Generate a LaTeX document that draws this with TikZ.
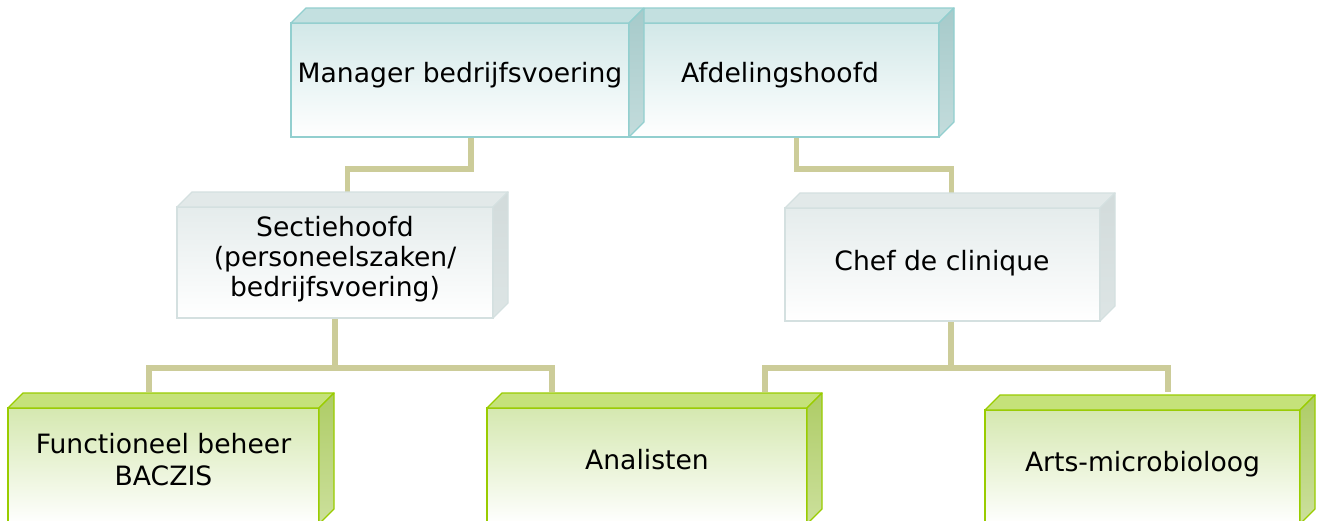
\documentclass[tikz,border=0pt]{standalone}
\usepackage{fontspec}
\setmainfont{DejaVu Sans}
\usetikzlibrary{calc}

% palette
\definecolor{tealline}{HTML}{92CFCF}
\definecolor{tealfront}{HTML}{D2E8E8}
\definecolor{tealtop}{HTML}{C3E0E0}
\definecolor{tealsideA}{HTML}{A6CACA}
\definecolor{tealsideB}{HTML}{C3DCDC}
\definecolor{greyline}{HTML}{D4E0E0}
\definecolor{greyfront}{HTML}{E5ECEC}
\definecolor{greytop}{HTML}{E2E9E9}
\definecolor{greysideA}{HTML}{D2DBDB}
\definecolor{greysideB}{HTML}{DDE5E5}
\definecolor{greenline}{HTML}{99CC00}
\definecolor{greenfront}{HTML}{D5E8B0}
\definecolor{greentop}{HTML}{C5E27A}
\definecolor{greensideA}{HTML}{AECC66}
\definecolor{greensideB}{HTML}{CCE09C}
\definecolor{connc}{HTML}{CCCC99}

\pgfdeclarelayer{bg}
\pgfsetlayers{bg,main}

\tikzset{
  x=1pt, y=-1pt,
  front/.style={rectangle, inner sep=0pt, outer sep=0pt, line width=1.3pt, bottom color=white},
  headbox/.style={front, draw=tealline, top color=tealfront},
  midbox/.style={front, draw=greyline, top color=greyfront},
  staffbox/.style={front, draw=greenline, top color=greenfront},
  boxtext/.style={anchor=base, inner sep=0pt, font=\fontsize{26.6}{30}\selectfont},
  conn/.style={draw=connc, line width=5.5pt, line join=miter, line cap=butt},
}

% top and right faces of a box whose front face is node #1
\newcommand{\boxsides}[5]{%
  \filldraw[draw=#2, fill=#3, line width=1.3pt, line join=round]
    (#1.north west) -- ++(15,-15) -- ([shift={(15,-15)}]#1.north east)
    -- (#1.north east) -- cycle;
  \shadedraw[draw=#2, top color=#4, bottom color=#5, line width=1.3pt, line join=round]
    (#1.north east) -- ([shift={(15,-15)}]#1.north east)
    -- ([shift={(15,-15)}]#1.south east) -- (#1.south east) -- cycle;
}
\newcommand{\headsides}[1]{\boxsides{#1}{tealline}{tealtop}{tealsideA}{tealsideB}}
\newcommand{\midsides}[1]{\boxsides{#1}{greyline}{greytop}{greysideA}{greysideB}}
\newcommand{\staffsides}[1]{\boxsides{#1}{greenline}{greentop}{greensideA}{greensideB}}

\begin{document}
\begin{tikzpicture}
\clip (0,0) rectangle (1322,520);
\begin{pgfonlayer}{bg}
  \fill[white] (0,0) rectangle (1322,520);
\end{pgfonlayer}

% top level
\node[headbox, minimum width=309pt, minimum height=114pt] (afd) at (784.5,80) {};
\headsides{afd}
\node[boxtext] (afd-t) at (780,82) {Afdelingshoofd};

\node[headbox, minimum width=338pt, minimum height=114pt] (mgr) at (460,80) {};
\headsides{mgr}
\node[boxtext] (mgr-t) at (460,82) {Manager bedrijfsvoering};

% middle level
\node[midbox, minimum width=316pt, minimum height=111pt] (sec) at (335,262.5) {};
\midsides{sec}
\node[boxtext] (sec-t) at (335,236)
  {\begin{tabular}[t]{@{}c@{}}Sectiehoofd\\(personeelszaken/\\bedrijfsvoering)\end{tabular}};

\node[midbox, minimum width=315pt, minimum height=113pt] (chef) at (942.5,264.5) {};
\midsides{chef}
\node[boxtext] (chef-t) at (942,270) {Chef de clinique};

% staff level
\node[staffbox, minimum width=311pt, minimum height=116pt] (fb) at (163.5,466) {};
\staffsides{fb}
\node[boxtext, font=\fontsize{26.6}{32}\selectfont] (fb-t) at (163.5,453)
  {\begin{tabular}[t]{@{}c@{}}Functioneel beheer\\BACZIS\end{tabular}};

\node[staffbox, minimum width=320pt, minimum height=116pt] (an) at (647,466) {};
\staffsides{an}
\node[boxtext] (an-t) at (647,469.5) {Analisten};

\node[staffbox, minimum width=315pt, minimum height=114pt] (arts) at (1142.5,467) {};
\staffsides{arts}
\node[boxtext] (arts-t) at (1142.5,471.5) {Arts-microbioloog};

% connectors
\begin{pgfonlayer}{bg}
  \draw[conn, shorten >=15pt] ([xshift=11pt]mgr.south) -- ++(0,32) -| ([xshift=12.5pt]sec.north);
  \draw[conn, shorten >=15pt] ([xshift=12pt]afd.south) -- ++(0,32) -| ([xshift=9pt]chef.north);
  \draw[conn] (sec.south) -- ++(0,50) coordinate (secj);
  \draw[conn] ([xshift=8.5pt]chef.south) -- ++(0,47) coordinate (chefj);
  \draw[conn, shorten <=16pt, shorten >=16pt]
    ([xshift=-14.5pt]fb.north) |- (secj) -| ([xshift=-95pt]an.north);
  \draw[conn, shorten <=16pt, shorten >=18pt]
    ([xshift=118pt]an.north) |- (chefj) -| ([xshift=25.5pt]arts.north);
\end{pgfonlayer}
\end{tikzpicture}
\end{document}
